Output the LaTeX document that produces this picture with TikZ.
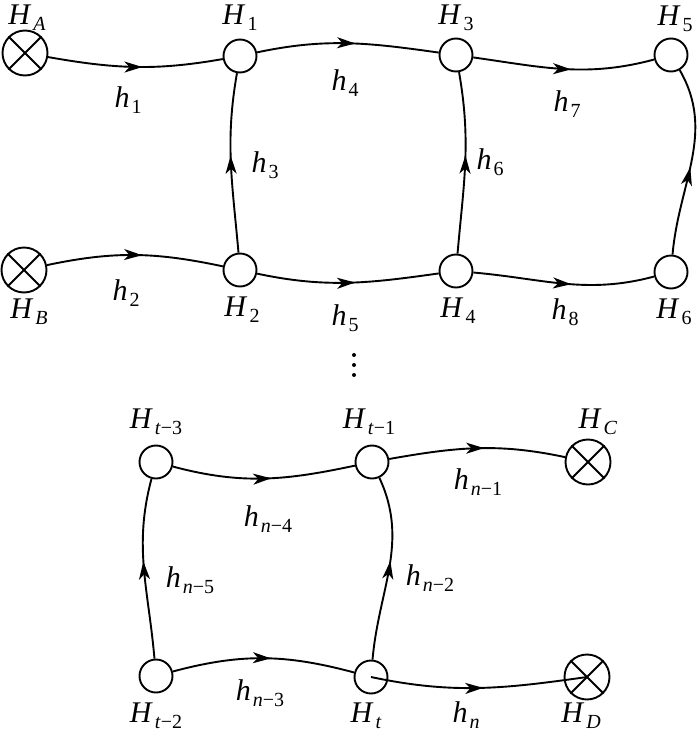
\documentclass[tikz,border=0pt]{standalone}
\usepackage{fontspec}
\setmainfont{Liberation Serif}
\usetikzlibrary{arrows.meta,decorations.markings}
\newcommand{\Lb}[2]{\textit{#1}\kern2pt\raisebox{-6pt}{\fontsize{20}{20}\selectfont #2}}
\begin{document}
\begin{tikzpicture}[x=1pt,y=1pt,
  nd/.style={circle,draw,fill=white,line width=1.9pt,minimum size=33pt,inner sep=0pt},
  xnd/.style={circle,draw,fill=white,line width=1.9pt,minimum size=45pt,inner sep=0pt},
  lab/.style={inner sep=0pt,font=\fontsize{30}{30}\selectfont},
  flow/.style={line width=1.9pt,postaction={decorate},
    decoration={markings,mark=at position #1 with {\arrow{Stealth[length=18pt,width=11pt,inset=5pt]}}}},
  flow/.default=0.54,
  dot/.style={circle,fill,inner sep=0pt,minimum size=4pt}]
\useasboundingbox (0,0) rectangle (700,-734);
% nodes
\node[xnd] (HA) at (25,-53) {};
\node[xnd] (HB) at (24,-270) {};
\node[nd] (H1) at (240,-56) {};
\node[nd] (H3) at (456,-55) {};
\node[nd] (H5) at (671,-55) {};
\node[nd] (H2) at (240,-270) {};
\node[nd] (H4) at (456,-271) {};
\node[nd] (H6) at (671,-272) {};
\node[nd] (Ht3) at (156,-462) {};
\node[nd] (Ht1) at (372,-462) {};
\node[xnd] (HC) at (588,-462) {};
\node[nd] (Ht2) at (156,-676) {};
\node[nd] (Ht) at (371,-677) {};
\node[xnd] (HD) at (587,-677) {};
\foreach \n in {HA,HB,HC,HD}
  \draw[line width=1.9pt] (\n.45) -- (\n.225) (\n.135) -- (\n.315);
% node labels
\node[lab] (lA) at (27,-18) {\Lb{H}{\textit{A}}};
\node[lab] (l1) at (240,-18) {\Lb{H}{1}};
\node[lab] (l3) at (456,-18) {\Lb{H}{3}};
\node[lab] (l5) at (675,-19) {\Lb{H}{5}};
\node[lab] (lB) at (29,-312) {\Lb{H}{\textit{B}}};
\node[lab] (l2) at (242,-310) {\Lb{H}{2}};
\node[lab] (l4) at (458,-311) {\Lb{H}{4}};
\node[lab] (l6) at (674,-312) {\Lb{H}{6}};
\node[lab] (lt3) at (156,-422) {\Lb{H}{\textit{t}−3}};
\node[lab] (lt1) at (369,-422) {\Lb{H}{\textit{t}−1}};
\node[lab] (lC) at (598,-422) {\Lb{H}{\textit{C}}};
\node[lab] (lt2) at (156,-716) {\Lb{H}{\textit{t}−2}};
\node[lab] (lt) at (366,-716) {\Lb{H}{\textit{t}}};
\node[lab] (lD) at (581,-716) {\Lb{H}{\textit{D}}};
% ellipsis
\node[dot] (d1) at (354,-355) {};
\node[dot] (d2) at (354,-365) {};
\node[dot] (d3) at (354,-375) {};
% edges
\draw[flow] (HA) to[out=-10,in=190] (H1);
\draw[flow] (HB) to[out=12,in=168] (H2);
\draw[flow] (H1) to[out=12,in=172] (H3);
\draw[flow] (H2) to[out=-12,in=188] (H4);
\draw[flow] (H3) to[out=-8,in=195] (H5);
\draw[flow] (H4) to[out=-5,in=195] (H6);
\draw[flow] (H2) to[out=95,in=-100] (H1);
\draw[flow] (H4) to[out=85,in=-80] (H3);
\draw[flow=0.47] (H6) to[out=85,in=-60] (H5);
\draw[flow] (Ht3) to[out=-15,in=192] (Ht1);
\draw[flow] (Ht1) to[out=10,in=168] (HC);
\draw[flow] (Ht2) to[out=95,in=-105] (Ht3);
\draw[flow] (Ht) to[out=85,in=-65] (Ht1);
\draw[flow] (Ht2) to[out=15,in=165] (Ht);
\draw[flow=0.52] (Ht.center) to[out=-12,in=188] (HD.center);
% edge labels
\node[lab] (e1) at (128,-100) {\Lb{h}{1}};
\node[lab] (e2) at (126,-293) {\Lb{h}{2}};
\node[lab] (e3) at (265,-165) {\Lb{h}{3}};
\node[lab] (e4) at (345,-83) {\Lb{h}{4}};
\node[lab] (e5) at (345,-318) {\Lb{h}{5}};
\node[lab] (e6) at (490,-162) {\Lb{h}{6}};
\node[lab] (e7) at (567,-104) {\Lb{h}{7}};
\node[lab] (e8) at (565,-312) {\Lb{h}{8}};
\node[lab] (en4) at (268,-519) {\Lb{h}{\textit{n}−4}};
\node[lab] (en1) at (478,-482) {\Lb{h}{\textit{n}−1}};
\node[lab] (en5) at (190,-580) {\Lb{h}{\textit{n}−5}};
\node[lab] (en2) at (430,-578) {\Lb{h}{\textit{n}−2}};
\node[lab] (en3) at (260,-693) {\Lb{h}{\textit{n}−3}};
\node[lab] (en) at (466,-715) {\Lb{h}{\textit{n}}};
\end{tikzpicture}
\end{document}
